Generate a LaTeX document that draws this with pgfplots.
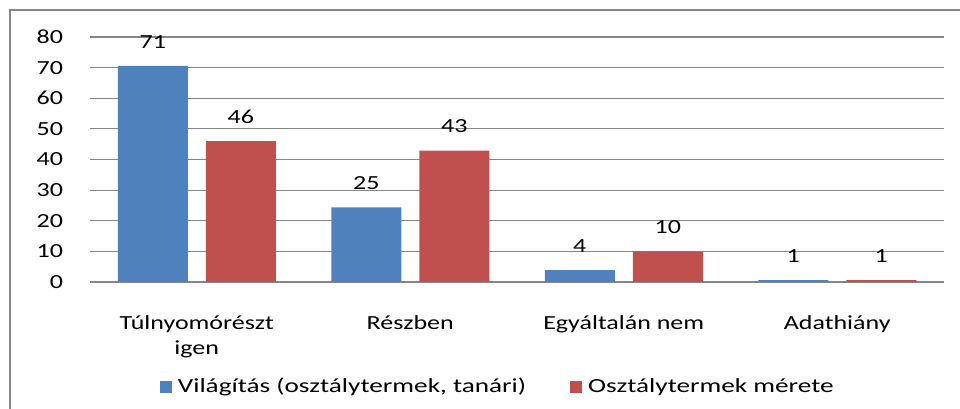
\documentclass[border=0pt]{standalone}
\usepackage{fontspec}
\setmainfont[FakeStretch=1.3]{Carlito}
\newfontfamily\legfont[FakeStretch=1.36]{Carlito}
\usepackage{pgfplots}
\pgfplotsset{compat=1.18}
\definecolor{cblue}{HTML}{4F81BD}
\definecolor{cred}{HTML}{C0504D}
\definecolor{cgrid}{HTML}{868686}
\begin{document}
\fontsize{15pt}{18.75pt}\selectfont
\begin{tikzpicture}
\path[use as bounding box] (0,0) rectangle (720pt,306.75pt);
\draw[cgrid, line width=1.6pt] (7.5pt,-2pt) -- (7.5pt,299.25pt) -- (722pt,299.25pt);
\begin{axis}[
  at={(67.5pt,95.25pt)}, anchor=south west,
  scale only axis, width=640.5pt, height=183.75pt,
  xmin=-0.5, xmax=3.5, ymin=0, ymax=80,
  ytick={0,10,...,80},
  xtick={0,1,2,3},
  xticklabels={Túlnyomórészt\\igen, Részben, Egyáltalán nem, Adathiány},
  xticklabel style={align=center, anchor=north, yshift=-20pt, font=\fontsize{15pt}{18.75pt}\selectfont},
  yticklabel style={anchor=east, xshift=-15pt, font=\fontsize{15pt}{18pt}\selectfont},
  /pgf/number format/assume math mode=true,
  major tick length=0pt,
  axis line style={draw=none},
  ymajorgrids, grid style={cgrid, line width=0.8pt},
  ybar, bar width=52.5pt,
  nodes near coords={\pgfmathprintnumber{\pgfplotspointmeta}},
  point meta=explicit,
  nodes near coords style={font=\fontsize{15pt}{18pt}\selectfont, yshift=8pt},
  legend columns=2,
  legend style={draw=none, at={(0.4778,-0.4286)}, anchor=center,
    font=\legfont\fontsize{15pt}{18pt}\selectfont,
    /tikz/every even column/.append style={column sep=31pt}},
  legend image code/.code={\fill[#1] (0pt,-4.5pt) rectangle (9pt,4.5pt); \path (0pt,0pt) -- (11.5pt,0pt);},
]
\addplot[fill=cblue, draw=none, bar shift=-33pt] coordinates {(0,70.6) [71] (1,24.4) [25] (2,3.9) [4] (3,0.6) [1]};
\addplot[fill=cred, draw=none, bar shift=33pt] coordinates {(0,46) [46] (1,42.9) [43] (2,10) [10] (3,0.6) [1]};
\legend{{Világítás (osztálytermek, tanári)}, {Osztálytermek mérete}}
\end{axis}
\end{tikzpicture}
\end{document}
